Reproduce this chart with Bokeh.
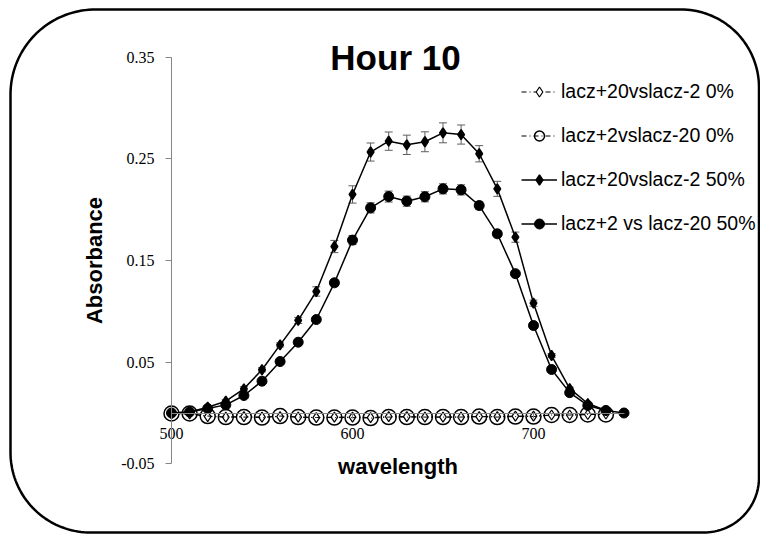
import numpy as np
from bokeh.plotting import figure
from bokeh.models import (Range1d, LinearAxis, FixedTicker, NumeralTickFormatter,
                          Legend, LegendItem, ColumnDataSource, Whisker, TeeHead)
from bokeh.core.properties import value
from bokeh.embed import file_html
from bokeh.resources import INLINE

# ---------------- data ----------------
wavelength = [500, 510, 520, 530, 540, 550, 560, 570, 580, 590, 600, 610, 620,
              630, 640, 650, 660, 670, 680, 690, 700, 710, 720, 730, 740, 750]

# lacz+20vslacz-2 0%  (500..740)
s1_x = wavelength[:25]
s1_y = [-0.001, -0.001, -0.0035, -0.004, -0.0035, -0.004, -0.0035, -0.004, -0.0045,
        -0.004, -0.004, -0.0045, -0.0035, -0.0035, -0.004, -0.004, -0.004, -0.0035,
        -0.0035, -0.003, -0.003, -0.002, -0.002, -0.0015, -0.001]

# lacz+2vslacz-20 0%  (500..740)
s2_x = wavelength[:25]
s2_y = [-0.0005, -0.0005, -0.003, -0.004, -0.004, -0.0045, -0.003, -0.004, -0.0045,
        -0.0045, -0.0045, -0.005, -0.004, -0.004, -0.004, -0.004, -0.004, -0.0035,
        -0.004, -0.0035, -0.0035, -0.002, -0.002, -0.0015, -0.0015]

# lacz+20vslacz-2 50%  (500..740)
s3_x = wavelength[:25]
s3_y = [0.0, 0.001, 0.0057, 0.0116, 0.0238, 0.0425, 0.067, 0.091, 0.1195, 0.1637,
        0.2149, 0.2566, 0.2673, 0.2637, 0.2667, 0.2755, 0.2738, 0.2549, 0.2204,
        0.1729, 0.108, 0.0565, 0.024, 0.0093, 0.0025]
s3_err = [0.0005, 0.0005, 0.001, 0.0015, 0.002, 0.002, 0.002, 0.003, 0.0046, 0.006,
          0.0085, 0.0089, 0.009, 0.0095, 0.0098, 0.0098, 0.0094, 0.008, 0.0074,
          0.005, 0.003, 0.002, 0.0015, 0.001, 0.0005]

# lacz+2 vs lacz-20 50%  (500..750)
s4_x = wavelength
s4_y = [0.0, 0.001, 0.0044, 0.008, 0.0172, 0.0313, 0.0506, 0.0696, 0.0919, 0.128,
        0.170, 0.2017, 0.2128, 0.2083, 0.2126, 0.2204, 0.2194, 0.204, 0.1762, 0.137,
        0.086, 0.0428, 0.020, 0.0074, 0.0025, 0.0]
s4_err = [0.0005, 0.0005, 0.001, 0.001, 0.001, 0.001, 0.0015, 0.0015, 0.002, 0.003,
          0.0044, 0.005, 0.0054, 0.005, 0.005, 0.005, 0.005, 0.004, 0.003, 0.002,
          0.0015, 0.001, 0.001, 0.0005, 0.0005, 0.0005]

labels = ["lacz+20vslacz-2 0%", "lacz+2vslacz-20 0%",
          "lacz+20vslacz-2 50%", "lacz+2 vs lacz-20 50%"]

x_ticks = [500, 600, 700]
y_ticks = [-0.05, 0.05, 0.15, 0.25, 0.35]

# ---------------- layout ----------------
W, H = 760, 534
X0_PX, X_SCALE = 171.0, 1.81      # canvas px of x=500, px per nm
Y0_PX, Y_SCALE = 412.5, 1017.0    # canvas px of y=0, px per unit

x_start = 500 - X0_PX / X_SCALE
x_end = x_start + W / X_SCALE
y_end = Y0_PX / Y_SCALE
y_start = -(H - Y0_PX) / Y_SCALE

p = figure(width=W, height=H, x_range=Range1d(x_start, x_end),
           y_range=Range1d(y_start, y_end), x_axis_type=None, y_axis_type=None,
           min_border=0, toolbar_location=None, output_backend="svg")
p.outline_line_color = None
p.background_fill_color = "white"
p.border_fill_color = "white"
p.extra_x_ranges = {"px": Range1d(0, W)}
p.extra_y_ranges = {"px": Range1d(H, 0)}

AX_COLOR = "#868686"

xaxis = LinearAxis(fixed_location=0, bounds=(500, 750),
                   ticker=FixedTicker(ticks=x_ticks), axis_label="wavelength")
yaxis = LinearAxis(fixed_location=500, bounds=(-0.05, 0.35),
                   ticker=FixedTicker(ticks=y_ticks),
                   formatter=NumeralTickFormatter(format="0.00"),
                   axis_label="Absorbance")
for ax in (xaxis, yaxis):
    ax.axis_line_color = AX_COLOR
    ax.axis_line_width = 1
    ax.major_tick_line_color = AX_COLOR
    ax.major_tick_in = 0
    ax.minor_tick_out = 0
    ax.minor_tick_in = 0
    ax.major_label_text_font = "Liberation Serif"
    ax.major_label_text_font_size = "16px"
    ax.major_label_text_color = "black"
    ax.axis_label_text_font = "Liberation Sans"
    ax.axis_label_text_font_style = "bold"
    ax.axis_label_text_font_size = "22px"
    ax.axis_label_text_color = "black"
xaxis.major_tick_out = 5
xaxis.major_label_standoff = 10
xaxis.axis_label_standoff = 11
yaxis.major_tick_out = 6
yaxis.major_label_standoff = 11
yaxis.axis_label_standoff = 11
p.add_layout(xaxis, "below")
p.add_layout(yaxis, "left")

# error bars (under the markers)
src3 = ColumnDataSource(dict(x=s3_x, upper=[a + b for a, b in zip(s3_y, s3_err)],
                             lower=[a - b for a, b in zip(s3_y, s3_err)]))
src4 = ColumnDataSource(dict(x=s4_x, upper=[a + b for a, b in zip(s4_y, s4_err)],
                             lower=[a - b for a, b in zip(s4_y, s4_err)]))
ERR_COLOR = "#5e5e5e"
for src in (src3, src4):
    w = Whisker(source=src, base="x", upper="upper", lower="lower",
                dimension="height", line_color=ERR_COLOR, line_width=1,
                upper_head=TeeHead(size=8, line_color=ERR_COLOR, line_width=1),
                lower_head=TeeHead(size=8, line_color=ERR_COLOR, line_width=1),
                level="underlay")
    p.add_layout(w)

# series
l1 = p.line(s1_x, s1_y, line_color="black", line_width=1, line_dash="5 3 1 3")
m1 = p.scatter(s1_x, s1_y, marker="diamond", size=10, line_color="black",
               line_width=1.2, fill_color="white")
l2 = p.line(s2_x, s2_y, line_color="black", line_width=1, line_dash="5 3 1 3")
m2 = p.scatter(s2_x, s2_y, marker="circle", size=15, line_color="black",
               line_width=1.5, fill_alpha=0)
l3 = p.line(s3_x, s3_y, line_color="black", line_width=1.5)
m3 = p.scatter(s3_x, s3_y, marker="diamond", size=10, line_color="black",
               line_width=1.5, fill_color="black")
l4 = p.line(s4_x, s4_y, line_color="black", line_width=1.5)
m4 = p.scatter(s4_x, s4_y, marker="circle", size=10, line_color="black",
               fill_color="black")

LEG_TOP, LEG_LEFT = 79, 521
ITEM_H, ITEM_GAP = 25, 19
legend = Legend(items=[LegendItem(label=labels[0], renderers=[l1, m1]),
                       LegendItem(label=labels[1], renderers=[l2, m2]),
                       LegendItem(label=labels[2], renderers=[l3, m3]),
                       LegendItem(label=labels[3], renderers=[l4, m4])],
                location=(LEG_LEFT, H - (LEG_TOP + 4 * ITEM_H + 3 * ITEM_GAP)),
                glyph_width=36, glyph_height=ITEM_H,
                label_height=ITEM_H, spacing=ITEM_GAP, padding=0, margin=0,
                label_standoff=4, border_line_color=None,
                background_fill_alpha=0,
                label_text_font="Liberation Sans", label_text_font_size="19.5px",
                label_text_color="black")
p.add_layout(legend)

# title
p.text(x=[395], y=[57], text=["Hour 10"], text_align="center",
       text_baseline="middle", text_font=value("Liberation Sans"),
       text_font_style="bold", text_font_size="35px", text_color="black",
       x_range_name="px", y_range_name="px")


# rounded outer frame
def rounded_path(x0, y0, x1, y1, r_tl, r_tr, r_br, r_bl, n=40):
    xs, ys = [], []
    corners = [((x0 + r_tl, y0 + r_tl), r_tl, np.pi, 1.5 * np.pi),
               ((x1 - r_tr, y0 + r_tr), r_tr, 1.5 * np.pi, 2 * np.pi),
               ((x1 - r_br, y1 - r_br), r_br, 0.0, 0.5 * np.pi),
               ((x0 + r_bl, y1 - r_bl), r_bl, 0.5 * np.pi, np.pi)]
    for (cx, cy), r, a0, a1 in corners:
        t = np.linspace(a0, a1, n)
        xs.extend(cx + r * np.cos(t))
        ys.extend(cy + r * np.sin(t))
    xs.append(xs[0])
    ys.append(ys[0])
    return xs, ys


fx, fy = rounded_path(10, 9, 758.5, 532, 85, 78, 55, 80)
p.line(fx, fy, line_color="black", line_width=2.5,
       x_range_name="px", y_range_name="px")

open("out.html", "w").write(file_html(p, INLINE))
